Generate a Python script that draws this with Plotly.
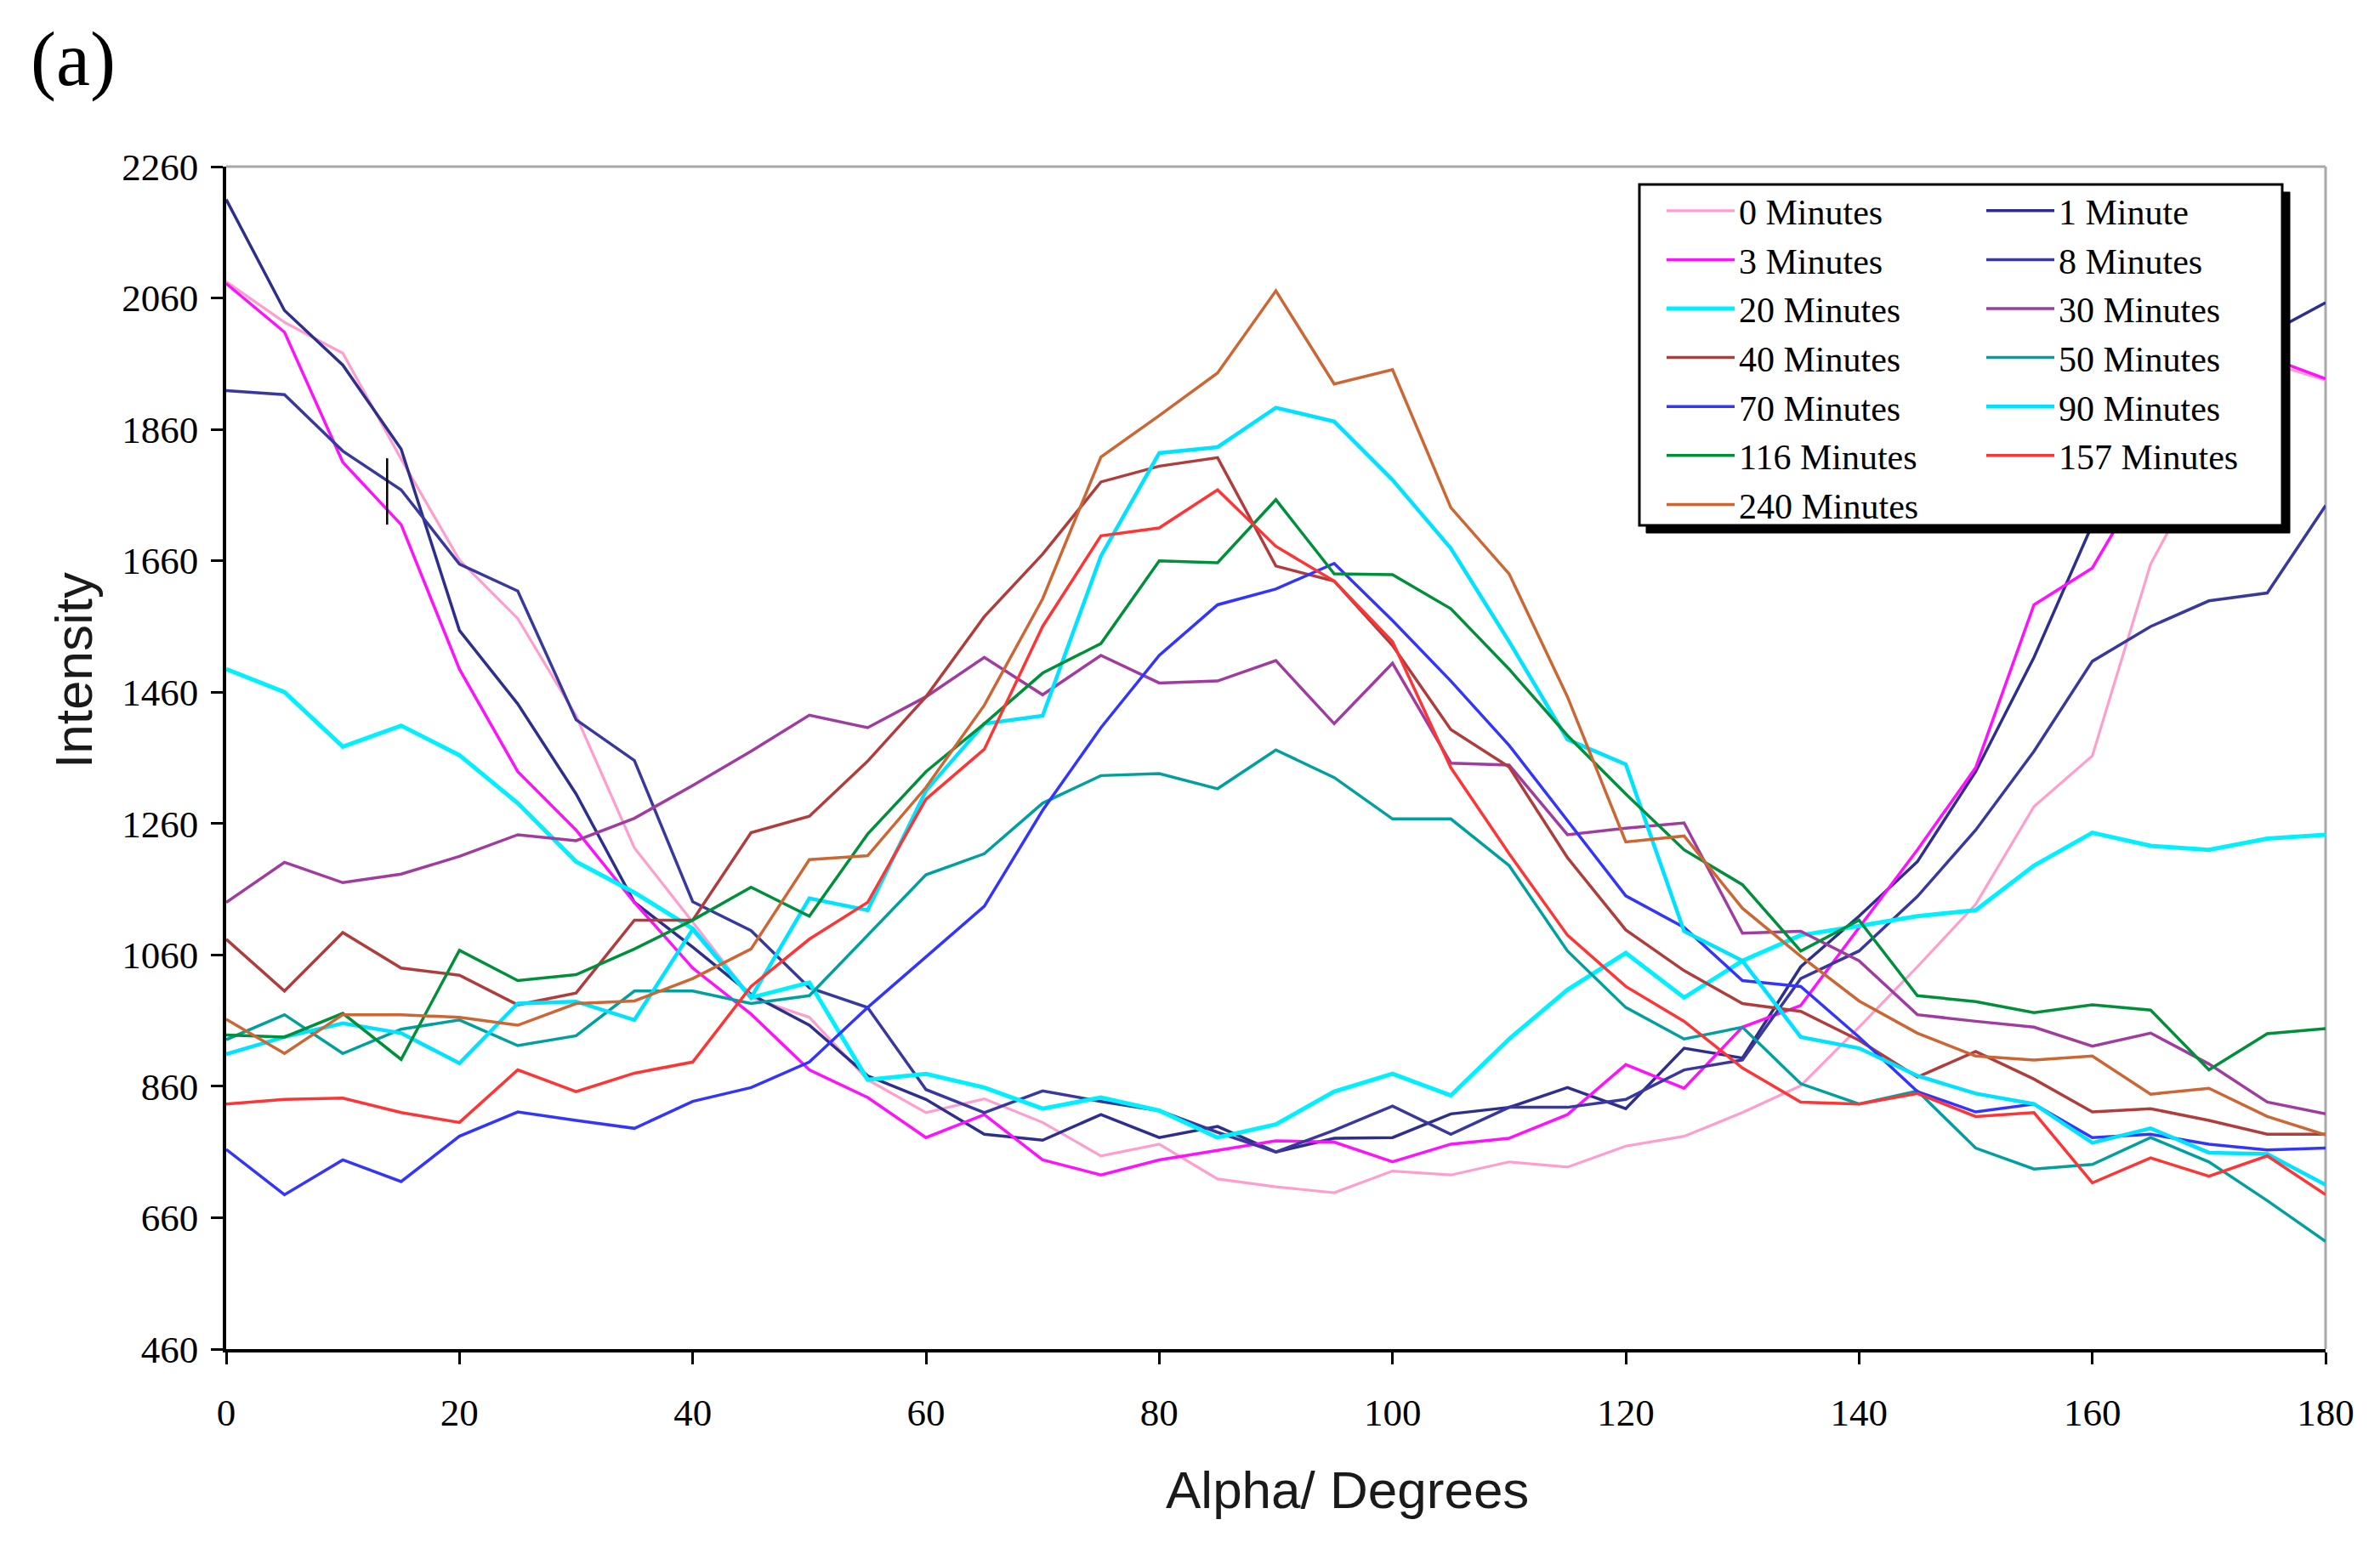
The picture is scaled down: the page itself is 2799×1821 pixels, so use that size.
import plotly.graph_objects as go

# ---------------- data ----------------
alpha = list(range(0, 181, 5))

min0 = [2085, 2023, 1976, 1815, 1661, 1572, 1424, 1223, 1110, 995,
        965, 870, 820, 841, 805, 754, 772, 719, 707, 698,
        731, 725, 745, 737, 769, 784, 820, 861, 950, 1042,
        1137, 1286, 1363, 1655, 1820, 1962, 1935]
min1 = [2210, 2041, 1958, 1830, 1554, 1442, 1305, 1140, 1072, 1000,
        953, 876, 840, 787, 778, 817, 782, 799, 760, 781,
        782, 818, 828, 858, 826, 918, 903, 1042, 1119, 1202,
        1339, 1513, 1715, 1860, 1950, 2005, 2053]
min3 = [2082, 2008, 1810, 1715, 1495, 1339, 1250, 1140, 1040, 970,
        885, 843, 782, 817, 748, 725, 748, 763, 777, 775,
        745, 772, 781, 817, 893, 857, 950, 983, 1101, 1220,
        1345, 1593, 1649, 1800, 1920, 1970, 1937]
min8 = [1919, 1913, 1827, 1768, 1655, 1614, 1418, 1356, 1141, 1097,
        1010, 980, 855, 820, 853, 837, 823, 790, 760, 793,
        830, 787, 828, 828, 840, 885, 900, 1024, 1066, 1149,
        1250, 1370, 1507, 1560, 1599, 1611, 1744]
min20 = [1495, 1460, 1377, 1409, 1364, 1291, 1202, 1155, 1100, 995,
         1018, 870, 879, 858, 826, 843, 823, 782, 802, 852,
         879, 846, 932, 1007, 1063, 995, 1051, 1090, 1104, 1119,
         1128, 1196, 1246, 1226, 1220, 1237, 1243]
min30 = [1140, 1201, 1170, 1183, 1210, 1243, 1234, 1268, 1318, 1370,
         1425, 1406, 1453, 1513, 1456, 1516, 1474, 1477, 1508, 1412,
         1504, 1352, 1349, 1243, 1253, 1261, 1093, 1096, 1051, 969,
         959, 950, 921, 941, 894, 836, 818]
min40 = [1084, 1005, 1094, 1040, 1029, 984, 1002, 1113, 1113, 1246,
         1271, 1355, 1453, 1575, 1670, 1780, 1804, 1817, 1652, 1629,
         1531, 1403, 1346, 1208, 1098, 1036, 986, 974, 930, 874,
         913, 871, 821, 826, 808, 787, 787]
min50 = [931, 969, 910, 947, 961, 922, 937, 1005, 1005, 986,
         998, 1090, 1182, 1214, 1291, 1333, 1336, 1313, 1372, 1330,
         1267, 1267, 1196, 1066, 980, 932, 950, 864, 833, 853,
         766, 734, 741, 782, 745, 686, 624]
min70 = [764, 695, 748, 715, 784, 821, 808, 796, 837, 858,
         897, 980, 1057, 1134, 1280, 1406, 1516, 1593, 1617, 1656,
         1569, 1477, 1379, 1265, 1150, 1102, 1021, 1012, 935, 852,
         821, 833, 782, 787, 772, 763, 766]
min90 = [909, 935, 956, 941, 895, 986, 989, 961, 1099, 995,
         1146, 1128, 1310, 1412, 1424, 1667, 1824, 1833, 1893, 1872,
         1783, 1679, 1537, 1388, 1350, 1096, 1051, 935, 918, 876,
         849, 833, 774, 796, 759, 757, 710]
min116 = [938, 935, 971, 901, 1067, 1021, 1030, 1069, 1113, 1163,
          1119, 1244, 1339, 1412, 1489, 1534, 1660, 1657, 1753, 1640,
          1639, 1587, 1495, 1394, 1305, 1220, 1167, 1066, 1113, 998,
          989, 972, 984, 976, 885, 940, 948]
min157 = [833, 840, 842, 820, 805, 885, 852, 880, 897, 1012,
          1084, 1140, 1297, 1373, 1560, 1698, 1710, 1768, 1682, 1629,
          1537, 1345, 1214, 1090, 1012, 959, 888, 836, 833, 849,
          814, 820, 713, 751, 723, 754, 695]
min240 = [962, 910, 969, 969, 965, 953, 986, 990, 1024, 1069,
          1205, 1211, 1315, 1440, 1602, 1818, 1881, 1946, 2071, 1929,
          1951, 1741, 1640, 1453, 1232, 1241, 1131, 1058, 990, 941,
          906, 900, 906, 848, 857, 814, 786]

# small stray vertical mark visible in the original figure
stray_x = [13.8, 13.8]
stray_y = [1715, 1816]

y_ticks = list(range(460, 2261, 200))
x_ticks = list(range(0, 181, 20))

series = [
    ("0 Minutes", min0, "#FF9ECC", 3.2, "legend"),
    ("1 Minute", min1, "#2E2E8C", 3.5, "legend2"),
    ("3 Minutes", min3, "#FF10FF", 3.5, "legend"),
    ("8 Minutes", min8, "#38389E", 3.5, "legend2"),
    ("20 Minutes", min20, "#00F0FF", 5.0, "legend"),
    ("30 Minutes", min30, "#A03CA0", 3.5, "legend2"),
    ("40 Minutes", min40, "#B03C3C", 3.5, "legend"),
    ("50 Minutes", min50, "#00A0A0", 3.5, "legend2"),
    ("70 Minutes", min70, "#3434FF", 3.5, "legend"),
    ("90 Minutes", min90, "#00E2FF", 4.5, "legend2"),
    ("116 Minutes", min116, "#008F3A", 3.5, "legend"),
    ("157 Minutes", min157, "#FF3434", 3.5, "legend2"),
    ("240 Minutes", min240, "#CC6633", 3.5, "legend"),
]

fig = go.Figure()
for name, vals, col, w, leg in series:
    fig.add_trace(go.Scatter(x=alpha, y=vals, mode="lines", name=name,
                             line=dict(color=col, width=w), legend=leg))
fig.add_trace(go.Scatter(x=stray_x, y=stray_y, mode="lines", showlegend=False,
                         line=dict(color="black", width=2.5), hoverinfo="skip"))

# the page puts the figure 8 px in from the window edge
OFF = 8
W, H = 2799 - OFF, 1821 - OFF
L, T = 266 - OFF, 196 - OFF
R = W - (2735 - OFF)
B = H - (1587 - OFF)
PW, PH = W - L - R, H - T - B


def px(xp):
    return (xp - OFF - L) / PW


def py(yp):
    return (H - B - (yp - OFF)) / PH


serif = "Liberation Serif, Times New Roman, serif"
sans = "Liberation Sans, Arial, sans-serif"

fig.update_layout(
    width=W, height=H,
    margin=dict(l=L, r=R, t=T, b=B, pad=0),
    plot_bgcolor="white", paper_bgcolor="white",
    showlegend=True,
    xaxis=dict(range=[0, 180], tickvals=x_ticks, showgrid=False, zeroline=False,
               showline=True, linecolor="black", linewidth=3.5,
               ticks="outside", ticklen=14, tickwidth=3, tickcolor="black",
               tickfont=dict(family=serif, size=45, color="black"),
               ticklabelstandoff=18),
    yaxis=dict(range=[460, 2260], tickvals=y_ticks, showgrid=False, zeroline=False,
               showline=True, linecolor="black", linewidth=3.5,
               ticks="outside", ticklen=14, tickwidth=3, tickcolor="black",
               tickfont=dict(family=serif, size=45, color="black"),
               ticklabelstandoff=6),
    legend=dict(x=px(1955), y=py(214), xanchor="left", yanchor="top",
                bgcolor="rgba(0,0,0,0)", borderwidth=0, itemwidth=80,
                font=dict(family=serif, size=42, color="black"),
                tracegroupgap=0),
    legend2=dict(x=px(2331), y=py(214), xanchor="left", yanchor="top",
                 bgcolor="rgba(0,0,0,0)", borderwidth=0, itemwidth=80,
                 font=dict(family=serif, size=42, color="black"),
                 tracegroupgap=0),
    shapes=[
        dict(type="line", xref="paper", yref="paper", x0=0, x1=1, y0=1, y1=1,
             line=dict(color="#A8A8A8", width=3), layer="below"),
        dict(type="line", xref="paper", yref="paper", x0=1, x1=1, y0=0, y1=1,
             line=dict(color="#A8A8A8", width=3), layer="below"),
        dict(type="rect", xref="paper", yref="paper",
             x0=px(1936), x1=px(2693), y0=py(226), y1=py(627),
             fillcolor="black", line=dict(color="black", width=1), layer="above"),
        dict(type="rect", xref="paper", yref="paper",
             x0=px(1928), x1=px(2684), y0=py(217), y1=py(618),
             fillcolor="white", line=dict(color="black", width=3), layer="above"),
    ],
    annotations=[
        dict(text="Alpha/ Degrees", xref="paper", yref="paper",
             x=px(1584), y=py(1752), xanchor="center", yanchor="middle",
             showarrow=False, font=dict(family=sans, size=62, color="#1a1a1a")),
        dict(text="Intensity", xref="paper", yref="paper",
             x=px(86), y=py(789), xanchor="center", yanchor="middle", textangle=-90,
             showarrow=False, font=dict(family=sans, size=62, color="#1a1a1a")),
        dict(text="(a)", xref="paper", yref="paper",
             x=px(34), y=py(18), xanchor="left", yanchor="top",
             showarrow=False, font=dict(family=serif, size=90, color="black")),
    ],
)

fig.write_html("out.html")
